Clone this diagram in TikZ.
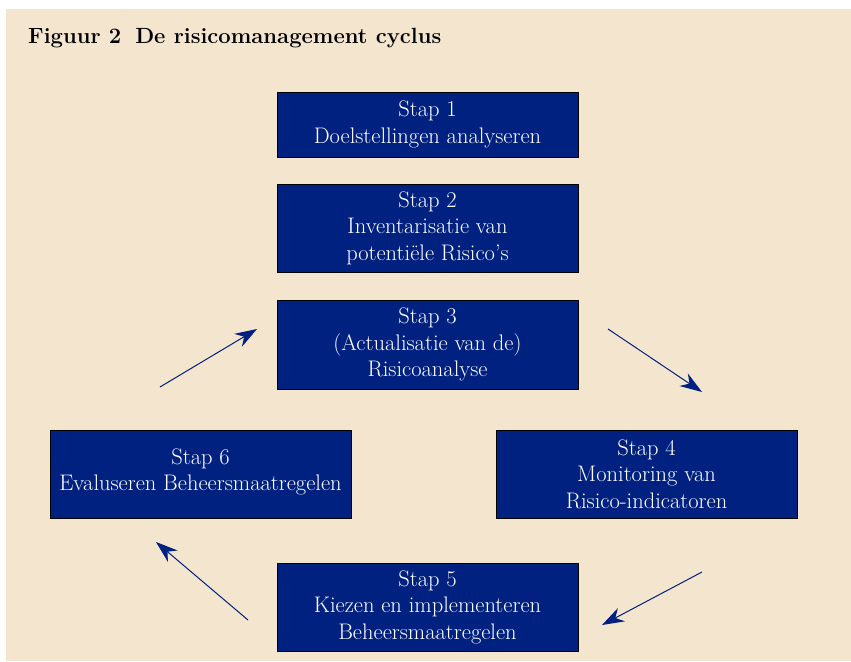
\documentclass[tikz,border=0pt]{standalone}
\usepackage{fontspec}
\usepackage{tikz}
\usetikzlibrary{arrows.meta}
\usepackage{xcolor}
\definecolor{beige}{RGB}{244,229,207}
\definecolor{navy}{RGB}{0,33,127}

\tikzset{
  stapbox/.style={draw=black,line width=1pt,fill=navy,text=white,align=center,
    minimum width=301pt,inner sep=0pt,font=\fontsize{22.5}{26.5}\selectfont},
  cyclearrow/.style={draw=navy,line width=1pt,-{Stealth[length=22pt,width=15pt,inset=7pt]}}
}

\begin{document}
\begin{tikzpicture}[x=1pt,y=1pt,yscale=-1,xscale=1]
\useasboundingbox (0,0) rectangle (851,661);

%Background
\fill [beige] (6,9) rectangle (851,661);

% Text Node
\node (titel) [anchor=base west,inner sep=0pt,font=\fontsize{22}{24}\selectfont\bfseries] at (28,44) {Figuur 2\hspace{14pt}De risicomanagement cyclus};

%Boxes
\node (stap1) [stapbox,minimum height=65pt] at (427.5,124.5) {Stap 1\\Doelstellingen analyseren};
\node (stap2) [stapbox,minimum height=88pt] at (427.5,228) {Stap 2\\Inventarisatie van\\potenti\"ele Risico's};
\node (stap3) [stapbox,minimum height=89pt] at (427.5,344.5) {Stap 3\\(Actualisatie van de)\\Risicoanalyse};
\node (stap4) [stapbox,minimum height=88pt] at (646.5,474) {Stap 4\\Monitoring van\\Risico-indicatoren};
\node (stap5) [stapbox,minimum height=88pt] at (427.5,607) {Stap 5\\Kiezen en implementeren\\Beheersmaatregelen};
\node (stap6) [stapbox,minimum height=88pt] at (200.5,474) {Stap 6\\Evaluseren Beheersmaatregelen\\[-18pt]};

%Arrow ends
\coordinate (a63s) at (160,387);
\coordinate (a63e) at (257,329);
\coordinate (a34s) at (608,329);
\coordinate (a34e) at (702,392);
\coordinate (a45s) at (702,572);
\coordinate (a45e) at (602,625);
\coordinate (a56s) at (248,620);
\coordinate (a56e) at (156,542);

%Arrows
\draw [cyclearrow] (a63s) -- (a63e);
\draw [cyclearrow] (a34s) -- (a34e);
\draw [cyclearrow] (a45s) -- (a45e);
\draw [cyclearrow] (a56s) -- (a56e);
\end{tikzpicture}
\end{document}
